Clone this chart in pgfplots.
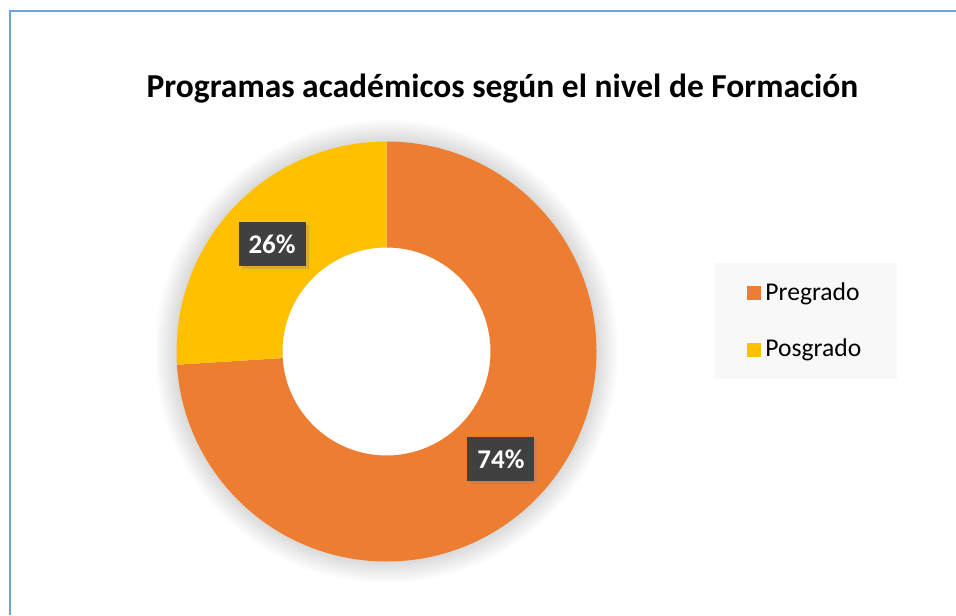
\documentclass[border=0pt]{standalone}
\usepackage{fontspec}
\setmainfont{Carlito}
\usepackage{pgfplots}
\usepackage{pgfplotstable}
\pgfplotsset{compat=1.18}
\usetikzlibrary{shadows}
\definecolor{cPre}{HTML}{ED7D31}
\definecolor{cPos}{HTML}{FFC000}
\definecolor{lblbg}{HTML}{404040}
\definecolor{legbg}{HTML}{F8F8F8}
\definecolor{framec}{HTML}{6CA6DE}

\pgfplotstableread{
nivel valor
Pregrado 74
Posgrado 26
}\datatable
\pgfplotstablegetelem{0}{valor}\of\datatable \let\vPre\pgfplotsretval
\pgfplotstablegetelem{1}{valor}\of\datatable \let\vPos\pgfplotsretval
\pgfmathsetmacro\total{\vPre+\vPos}
\pgfmathsetmacro\aPre{360/\total*\vPre}
\pgfmathsetmacro\aPos{360/\total*\vPos}
\pgfmathsetmacro\midPre{90-\aPre/2}
\pgfmathsetmacro\midPos{90+\aPos/2}
\pgfmathtruncatemacro\pPre{round(100/\total*\vPre)}
\pgfmathtruncatemacro\pPos{round(100/\total*\vPos)}
\def\Rout{105pt}
\def\Rin{52pt}
\def\Rmid{78.5pt}

\begin{document}
\begin{tikzpicture}
\begin{axis}[
  scale only axis, width=478pt, height=307.5pt,
  xmin=0, xmax=956, ymin=0, ymax=615, y dir=reverse,
  hide axis, clip=false,
  title={\bfseries Programas académicos según el nivel de Formación},
  title style={at={(0.5256,0.8225)}, anchor=base, yshift=0pt, font=\fontsize{16.75}{20}\selectfont},
  legend style={at={(axis cs:715,263)}, anchor=north west, fill=legbg, draw=none,
    font=\fontsize{12.8}{15}\selectfont, inner xsep=16pt, inner ysep=7.5pt,
    row sep=14pt, cells={anchor=west}},
  legend image code/.code={\fill[#1] (0pt,-3.5pt) rectangle (7pt,3.5pt);},
]
\addlegendimage{fill=cPre, draw=none}\addlegendentry{Pregrado}
\addlegendimage{fill=cPos, draw=none}\addlegendentry{Posgrado}

\draw[framec, line width=1.1pt] (axis cs:10.3,615) -- (axis cs:10.3,11) -- (axis cs:956,11);

\coordinate (C) at (axis cs:386.5,351.5);
\pgfplotsinvokeforeach{1,...,12}{
  \fill[black, opacity=0.012, even odd rule] (C) circle[radius={105pt+#1*0.9pt}] (C) circle[radius=104pt];
}
\fill[cPre] ([shift={(90:\Rout)}]C) arc[start angle=90, delta angle=-\aPre, radius=\Rout]
   -- ([shift={(90-\aPre:\Rin)}]C) arc[start angle=90-\aPre, delta angle=\aPre, radius=\Rin] -- cycle;
\fill[cPos] ([shift={(90:\Rout)}]C) arc[start angle=90, delta angle=\aPos, radius=\Rout]
   -- ([shift={(90+\aPos:\Rin)}]C) arc[start angle=90+\aPos, delta angle=-\aPos, radius=\Rin] -- cycle;

\node[fill=lblbg, text=white, font=\fontsize{13.5}{16}\selectfont\bfseries,
      minimum width=33.5pt, minimum height=22pt, inner sep=0pt,
      drop shadow={shadow xshift=1.5pt, shadow yshift=-1.5pt, opacity=0.3}]
  at ([shift={(\midPre:\Rmid)}]C) {\pPre\%};
\node[fill=lblbg, text=white, font=\fontsize{13.5}{16}\selectfont\bfseries,
      minimum width=33.5pt, minimum height=22pt, inner sep=0pt,
      drop shadow={shadow xshift=1.5pt, shadow yshift=-1.5pt, opacity=0.3}]
  at ([shift={(\midPos:\Rmid)}]C) {\pPos\%};
\end{axis}
\pgfresetboundingbox
\useasboundingbox (current axis.south west) rectangle (current axis.north east);
\end{tikzpicture}
\end{document}
